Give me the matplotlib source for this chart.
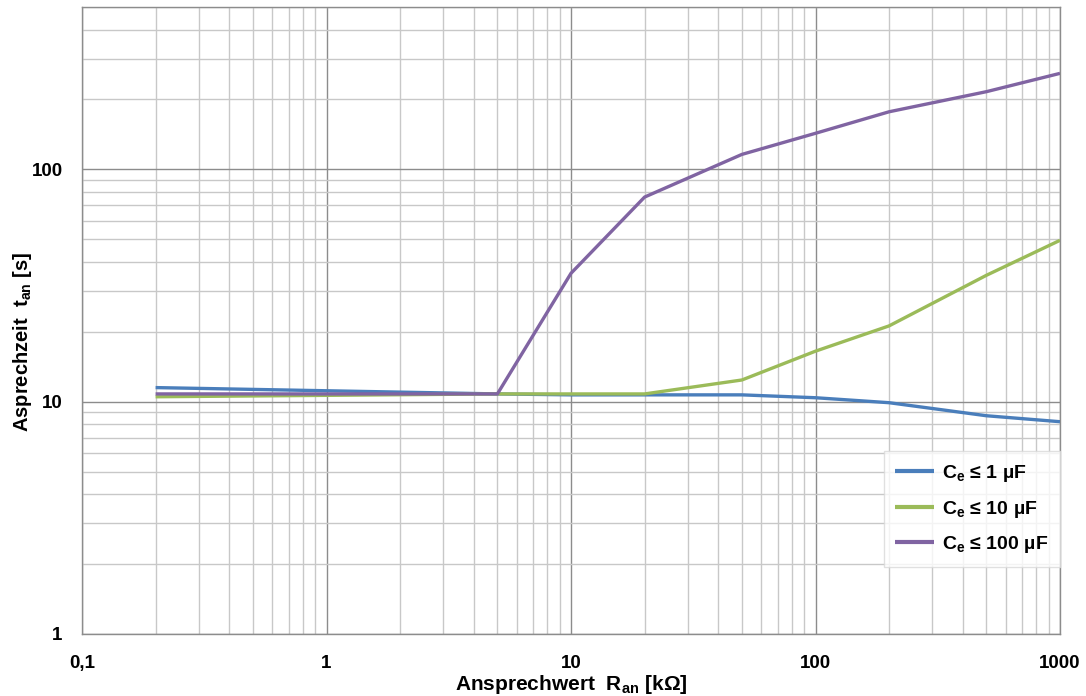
import matplotlib
matplotlib.use("Agg")
import matplotlib.pyplot as plt
from matplotlib.ticker import LogLocator, FixedLocator, NullFormatter

plt.rcParams['font.family'] = ['Liberation Sans', 'DejaVu Sans']

# Data
r_blue = [0.2, 5, 10, 20, 50, 100, 200, 500, 1000]
t_blue = [11.5, 10.8, 10.7, 10.7, 10.7, 10.4, 9.9, 8.7, 8.2]

r_green = [0.2, 5, 10, 20, 50, 100, 200, 500, 1000]
t_green = [10.5, 10.8, 10.8, 10.8, 12.4, 16.5, 21.2, 35.0, 49.5]

r_purple = [0.2, 5, 10, 20, 50, 100, 200, 500, 1000]
t_purple = [10.8, 10.8, 35.7, 76.0, 116.0, 143.0, 177.0, 216.0, 259.0]

labels = [r'C$_\mathregular{e}$ ≤ 1 µF', r'C$_\mathregular{e}$ ≤ 10 µF', r'C$_\mathregular{e}$ ≤ 100 µF']
colors = ['#4A7EBB', '#9BBB59', '#8064A2']

x_ticks = [0.1, 1, 10, 100, 1000]
x_ticklabels = ['0,1', '1', '10', '100', '1000']
y_ticks = [1, 10, 100]
y_ticklabels = ['1', '10', '100']

fig = plt.figure(figsize=(10.86, 6.96), dpi=100)
ax = fig.add_axes([82/1086, 62/696, (1060-82)/1086, (634-7)/696])

for r, t, c, lab in zip([r_blue, r_green, r_purple], [t_blue, t_green, t_purple], colors, labels):
    ax.plot(r, t, color=c, lw=2.4, label=lab, solid_capstyle='butt', zorder=3)

ax.set_xscale('log')
ax.set_yscale('log')
ax.set_xlim(0.1, 1000)
ax.set_ylim(1, 500)

ax.xaxis.set_major_locator(FixedLocator(x_ticks))
ax.set_xticklabels(x_ticklabels)
ax.yaxis.set_major_locator(FixedLocator(y_ticks))
ax.set_yticklabels(y_ticklabels)
ax.xaxis.set_minor_locator(LogLocator(base=10, subs=range(2, 10), numticks=20))
ax.yaxis.set_minor_locator(LogLocator(base=10, subs=range(2, 10), numticks=20))
ax.xaxis.set_minor_formatter(NullFormatter())
ax.yaxis.set_minor_formatter(NullFormatter())

ax.grid(True, which='major', color='#8C8C8C', lw=1.0, zorder=0)
ax.grid(True, which='minor', color='#C8C8C8', lw=1.0, zorder=0)
ax.tick_params(which='both', length=0)
ax.tick_params(axis='x', pad=15)
ax.tick_params(axis='y', pad=14)
for lbl in ax.get_xticklabels() + ax.get_yticklabels():
    lbl.set_fontweight('bold')
    lbl.set_fontsize(13.5)

for s in ax.spines.values():
    s.set_color('#8C8C8C')
    s.set_linewidth(1.0)

ax.set_xlabel(r'Ansprechwert  R$_\mathregular{an}$ [kΩ]', fontsize=15, fontweight='bold', labelpad=1)
ax.set_ylabel(r'Asprechzeit  t$_\mathregular{an}$ [s]', fontsize=14.5, fontweight='bold')
ax.yaxis.set_label_coords(-0.061, 0.466)
ax.yaxis.label.set_va('center')

leg = ax.legend(loc='lower right', bbox_to_anchor=(1.0, 0.107), borderaxespad=0,
                prop={'weight': 'bold', 'size': 14},
                frameon=True, fancybox=False, handlelength=2.0, labelspacing=0.75, borderpad=0.6,
                handletextpad=0.4)
leg.get_frame().set_edgecolor('#D9D9D9')
leg.get_frame().set_linewidth(1.0)
for h in leg.get_lines():
    h.set_linewidth(3.0)

fig.savefig('out.png', dpi=100)
